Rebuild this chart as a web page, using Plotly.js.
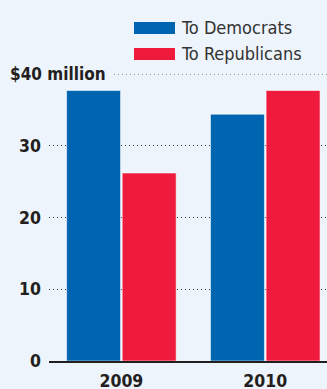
<!DOCTYPE html>
<html><head><meta charset="utf-8">
<script src="https://cdn.plot.ly/plotly-3.0.1.min.js"></script>
<style>html,body{margin:0;padding:0;background:#edf4fb;}</style>
</head><body><div id="chart" style="width:327px;height:389px;"></div>
<script>
const years = ['2009', '2010'];
const seriesNames = ['To Democrats', 'To Republicans'];
const toDemocrats = [37.7, 34.4];
const toRepublicans = [26.2, 37.7];
const yTickVals = [0, 10, 20, 30];
const yTickText = ['0', '10', '20', '30'];
const topLabel = '$40 million';
const topValue = 40;

const colors = ['#0065b1', '#ef1b3c'];
const W = 327, H = 389, ML = 49, MR = 0, MT = 74, MB = 28;
const PW = W - ML - MR, PH = H - MT - MB;
const px = x => (x - ML) / PW;
const py = y => (H - MB - y) / PH;
const FAM = '"DejaVu Sans Condensed", "DejaVu Sans", sans-serif';
const bold = {family: FAM, size: 17.5, color: '#231f20', weight: 'bold'};
const boldTop = {family: FAM, size: 17, color: '#231f20', weight: 'bold'};
const reg = {family: FAM, size: 18, color: '#333333'};

const traces = [toDemocrats, toRepublicans].map((vals, i) => ({
  type: 'bar', x: years, y: vals, name: seriesNames[i],
  marker: {color: colors[i], line: {color: 'rgba(255,255,255,0.55)', width: 1}},
  hoverinfo: 'none', showlegend: false
}));

const shapes = [
  {type: 'line', xref: 'paper', yref: 'y', x0: px(114), x1: 1, y0: topValue, y1: topValue,
   line: {color: '#333', width: 1, dash: '1px,3px'}, layer: 'below'}
];
const annotations = [
  {xref: 'paper', yref: 'y', x: px(8), y: topValue, text: topLabel, showarrow: false,
   xanchor: 'left', yanchor: 'middle', font: boldTop}
];
seriesNames.forEach((n, i) => {
  const top = 22 + i * 26;
  shapes.push({type: 'rect', xref: 'paper', yref: 'paper', x0: px(134), x1: px(175), y0: py(top + 12), y1: py(top),
    fillcolor: colors[i], line: {width: 0}});
  annotations.push({xref: 'paper', yref: 'paper', x: px(179), y: py(top + 6), text: n, showarrow: false,
    xanchor: 'left', yanchor: 'middle', font: reg});
});

const layout = {
  width: W, height: H,
  margin: {l: ML, r: MR, t: MT, b: MB, pad: 0},
  paper_bgcolor: '#edf4fb', plot_bgcolor: '#edf4fb',
  barmode: 'group', bargap: 0.227, bargroupgap: 0.03,
  xaxis: {type: 'category', range: [-0.503, 1.429], showgrid: false, zeroline: false,
    showline: true, linecolor: '#231f20', linewidth: 1.5, ticks: '', tickfont: bold,
    ticklabelstandoff: 3, fixedrange: true},
  yaxis: {range: [0, 40], tickvals: yTickVals, ticktext: yTickText, showgrid: true,
    gridcolor: '#333', gridwidth: 1, griddash: '1px,3px', zeroline: false, showline: false,
    ticks: '', tickfont: bold, ticklabelstandoff: 7, fixedrange: true},
  shapes: shapes, annotations: annotations
};
Plotly.newPlot('chart', traces, layout, {displayModeBar: false, staticPlot: true});
</script></body></html>
